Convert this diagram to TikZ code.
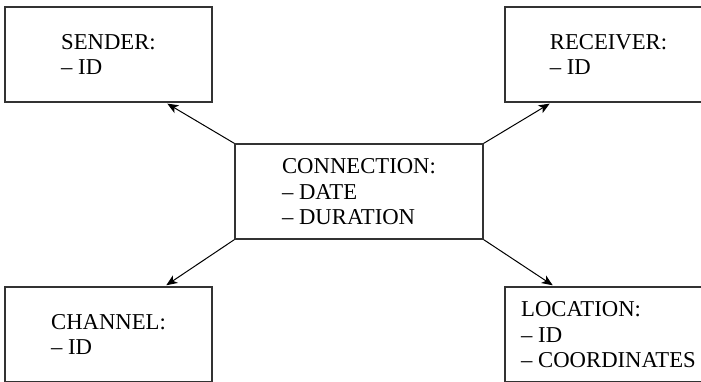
\documentclass[tikz,border=0pt]{standalone}
\usepackage{fontspec}
\setmainfont{Liberation Serif}
\usepackage{tikz}
\usetikzlibrary{arrows.meta}

\begin{document}
\begin{tikzpicture}[
  x=1pt, y=1pt,
  >={Stealth[length=11pt, width=9pt, inset=3pt]},
  entity/.style={draw=black!80, line width=1.2pt, minimum width=207pt, minimum height=95pt,
                 align=left, inner sep=0pt, text depth=-5pt},
  link/.style={->, line width=1pt, shorten >=2pt},
  every node/.style={font=\fontsize{22.7}{25.5}\selectfont}
]

% --- Visible area (outer boxes run off the edge) ---
\useasboundingbox (0,0) rectangle (701,381);
\clip (0,0) rectangle (701,381);

% --- Central record ---
\node[entity, minimum width=248pt] (conn) at (359,189.5)
  {CONNECTION:\\-- DATE\\-- DURATION};

% --- Related records ---
\node[entity] (sender)   at (108.5,326.5) {SENDER:\\-- ID};
\node[entity] (receiver) at (608.5,326.5) {RECEIVER:\\-- ID};
\node[entity] (channel)  at (108.5,46.5)  {CHANNEL:\\-- ID};
\node[entity] (location) at (608.5,46.5)  {LOCATION:\\-- ID\\-- COORDINATES};

% --- Links from the corners of the central record ---
\draw[link] (conn.north west) -- ([xshift=-47pt]sender.south east);
\draw[link] (conn.north east) -- ([xshift=47pt]receiver.south west);
\draw[link] (conn.south west) -- ([xshift=-48pt]channel.north east);
\draw[link] (conn.south east) -- ([xshift=50pt]location.north west);

\end{tikzpicture}
\end{document}
